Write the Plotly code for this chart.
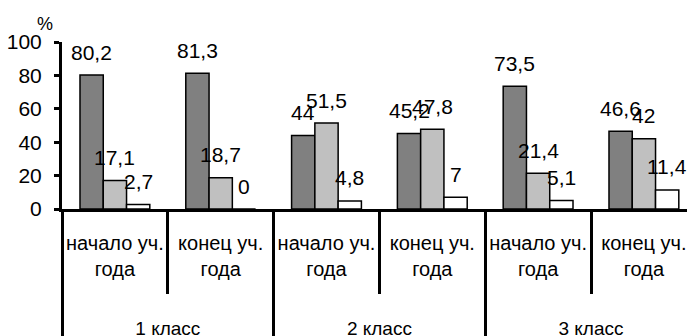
import plotly.graph_objects as go

# Categories: two measurement points per school year
periods = ["начало уч.<br>года", "конец уч.<br>года"]
classes = ["1 класс", "2 класс", "3 класс"]

# Series values (%), one per period within each class
series_high = [80.2, 81.3, 44, 45.2, 73.5, 46.6]
series_mid = [17.1, 18.7, 51.5, 47.8, 21.4, 42]
series_low = [2.7, 0, 4.8, 7, 5.1, 11.4]

y_ticks = [0, 20, 40, 60, 80, 100]

# Unique ids for each inner category so the labels can repeat
cat_ids = [f"{c}|{p}" for c in classes for p in periods]
cat_text = [p for c in classes for p in periods]

W, H = 687, 336
M_L, M_R, M_T, M_B = 62, 0, 42, 127
plot_w = W - M_L - M_R
unit_px = 105.8                      # pixel width of one inner category
x_hi = -0.5 + plot_w / unit_px       # right end of the visible range
bargap = 0.34
bar_unit = (1 - bargap) / 3

FONT = "Arial, Liberation Sans, sans-serif"

fig = go.Figure()
fills = ["#808080", "#C0C0C0", "#FFFFFF"]
for vals, fill in zip([series_high, series_mid, series_low], fills):
    fig.add_trace(go.Bar(
        x=cat_ids, y=vals,
        marker=dict(color=fill, line=dict(color="black", width=1.5)),
        showlegend=False, hoverinfo="skip",
    ))

# Invisible points that register the class categories on the outer axis
fig.add_trace(go.Scatter(
    x=classes, y=[0] * len(classes), xaxis="x2", mode="markers",
    marker=dict(opacity=0, size=1), showlegend=False, hoverinfo="skip",
))

def fmt(v):
    return f"{v:g}".replace(".", ",")

annotations = []
for j, vals in enumerate([series_high, series_mid, series_low]):
    for cid, v in zip(cat_ids, vals):
        annotations.append(dict(
            x=cid, y=v, xref="x", yref="y", text=fmt(v), showarrow=False,
            xshift=(j - 1) * bar_unit * unit_px, yshift=23,
            font=dict(family=FONT, size=21, color="black"),
        ))

annotations.append(dict(
    x=0, y=1, xref="paper", yref="paper", xanchor="center", yanchor="middle",
    xshift=-17, yshift=18,
    text="%", showarrow=False, font=dict(family=FONT, size=18, color="black"),
))

fig.update_layout(
    width=W, height=H,
    margin=dict(l=M_L, r=M_R, t=M_T, b=M_B, pad=0, autoexpand=False),
    paper_bgcolor="white", plot_bgcolor="white",
    barmode="group", bargap=bargap, bargroupgap=0,
    font=dict(family=FONT, color="black"),
    annotations=annotations,
    xaxis=dict(
        type="category", range=[-0.5, x_hi], automargin=False,
        tickmode="array", tickvals=cat_ids, ticktext=cat_text, tickangle=0,
        tickson="boundaries", ticks="outside", ticklen=82, tickwidth=3,
        tickcolor="black", ticklabelstandoff=14,
        tickfont=dict(family=FONT, size=20, color="black"),
        showline=True, linewidth=3, linecolor="black",
        showgrid=False, zeroline=False,
    ),
    xaxis2=dict(
        type="category", overlaying="x", anchor="y", side="bottom",
        range=[-0.5, (x_hi + 0.5) / 2 - 0.5], automargin=False, tickangle=0,
        tickson="boundaries", ticks="outside", ticklen=130, tickwidth=3,
        tickcolor="black", ticklabelstandoff=106,
        tickfont=dict(family=FONT, size=19, color="black"),
        showline=False, showgrid=False, zeroline=False,
    ),
    yaxis=dict(
        range=[0, 100], tickvals=y_ticks, automargin=False,
        ticks="outside", ticklen=5, tickwidth=3, tickcolor="black",
        ticklabelstandoff=8,
        tickfont=dict(family=FONT, size=21, color="black"),
        showline=True, linewidth=3, linecolor="black",
        showgrid=False, zeroline=False,
    ),
)

fig.write_html("out.html")
